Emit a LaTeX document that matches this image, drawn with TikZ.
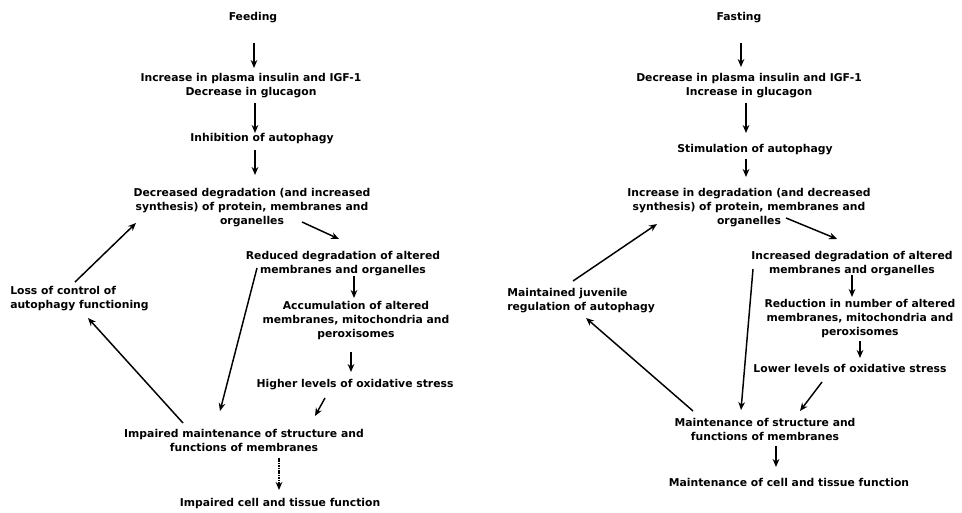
\documentclass[tikz,border=0pt]{standalone}
\usepackage{fontspec}
\setmainfont{DejaVu Sans}
\usetikzlibrary{arrows.meta,calc}
\begin{document}
\begin{tikzpicture}[x=0.75pt,y=-0.75pt,
  txt/.style={font=\fontsize{8.1}{10.5}\selectfont\bfseries, align=center, inner sep=0pt},
  ltxt/.style={txt, align=left, anchor=west},
  arr/.style={line width=1.1pt, -{Stealth[length=6pt,width=5pt]}},
  darr/.style={arr, dash pattern=on 1.2pt off 0.6pt}]
\useasboundingbox (0,0) rectangle (962,513);
% left column
\node[txt] (feed) at (253,18) {Feeding};
\node[txt] (ins) at (251,86) {Increase in plasma insulin and IGF-1\\Decrease in glucagon};
\node[txt] (inh) at (262,139) {Inhibition of autophagy};
\node[txt] (dec) at (252,208) {Decreased degradation (and increased\\synthesis) of protein, membranes and\\organelles};
\node[txt] (red) at (343,264) {Reduced degradation of altered\\membranes and organelles};
\node[txt] (acc) at (356,321) {Accumulation of altered\\membranes, mitochondria and\\peroxisomes};
\node[txt] (hig) at (355,385) {Higher levels of oxidative stress};
\node[txt] (imp) at (244,440) {Impaired maintenance of structure and\\functions of membranes};
\node[txt] (impc) at (280,504) {Impaired cell and tissue function};
\node[ltxt] (loss) at (10,299) {Loss of control of\\autophagy functioning};
% right column
\node[txt] (fast) at (739,18) {Fasting};
\node[txt] (dins) at (749,86) {Decrease in plasma insulin and IGF-1\\Increase in glucagon};
\node[txt] (stim) at (755,150) {Stimulation of autophagy};
\node[txt] (incd) at (749,208) {Increase in degradation (and decreased\\synthesis) of protein, membranes and\\organelles};
\node[txt] (incr) at (852,264) {Increased degradation of altered\\membranes and organelles};
\node[txt] (redn) at (860,319) {Reduction in number of altered\\membranes, mitochondria and\\peroxisomes};
\node[txt] (low) at (850,368) {Lower levels of oxidative stress};
\node[txt] (mnt) at (765,429) {Maintenance of structure and\\functions of membranes};
\node[txt] (mntc) at (789,482) {Maintenance of cell and tissue function};
\node[ltxt] (mj) at (507,301) {Maintained juvenile\\regulation of autophagy};
% left arrows
\draw[arr] ($(feed)+(1,25)$) -- ($(ins)+(3,-18)$);
\draw[arr] ($(ins)+(4,17)$) -- ($(inh)+(-7,-6)$);
\draw[arr] ($(inh)+(-7,11)$) -- ($(dec)+(3,-33)$);
\draw[arr] ($(dec)+(50,14)$) -- ($(red)+(-4,-25)$);
\draw[arr] ($(red)+(11,12)$) -- ($(acc)+(-2,-23)$);
\draw[arr] ($(acc)+(-5,31)$) -- ($(hig)+(-4,-13)$);
\draw[arr] ($(hig)+(-30,13)$) -- ($(imp)+(71,-24)$);
\draw[darr] ($(imp)+(35,18)$) -- ($(impc)+(-1,-14)$);
\draw[arr] ($(red)+(-86,4)$) -- ($(imp)+(-24,-29)$);
\draw[arr] ($(imp)+(-61,-17)$) -- ($(loss.west)+(78,19)$);
\draw[arr] ($(loss.west)+(65,-17)$) -- ($(dec)+(-116,15)$);
% right arrows
\draw[arr] ($(fast)+(2,25)$) -- ($(dins)+(-8,-19)$);
\draw[arr] ($(dins)+(-3,17)$) -- ($(stim)+(-9,-17)$);
\draw[arr] ($(stim)+(-9,9)$) -- ($(incd)+(-3,-31)$);
\draw[arr] ($(incd)+(37,10)$) -- ($(incr)+(-15,-25)$);
\draw[arr] ($(incr)+(0,11)$) -- ($(redn)+(-8,-22)$);
\draw[arr] ($(redn)+(0,22)$) -- ($(low)+(10,-10)$);
\draw[arr] ($(low)+(-28,14)$) -- ($(mnt)+(35,-18)$);
\draw[arr] ($(mnt)+(11,17)$) -- ($(mntc)+(-13,-15)$);
\draw[arr] ($(incr)+(-99,5)$) -- ($(mnt)+(-24,-19)$);
\draw[arr] ($(mnt)+(-72,-18)$) -- ($(mj.west)+(79,17)$);
\draw[arr] ($(mj.west)+(66,-20)$) -- ($(incd)+(-92,16)$);
\end{tikzpicture}
\end{document}
